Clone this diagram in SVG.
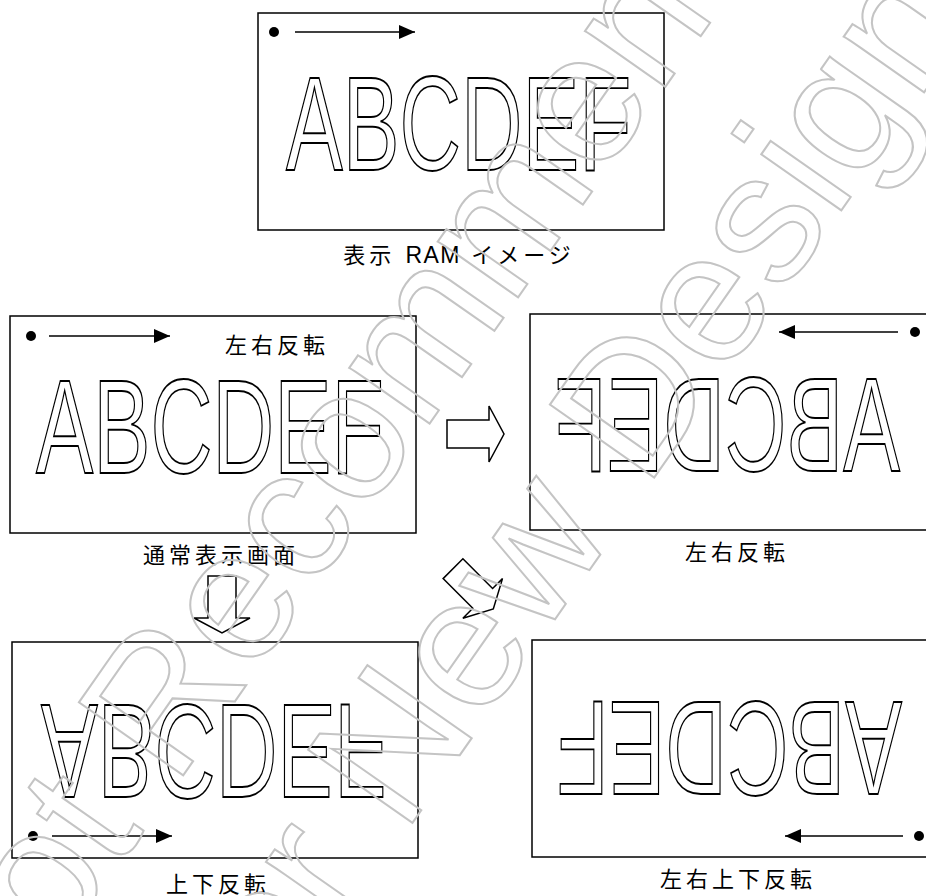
<svg xmlns="http://www.w3.org/2000/svg" width="926" height="896" viewBox="0 0 926 896">
<style>
.box{fill:#fff;stroke:#000;stroke-width:1.5}
.big{font-family:"Liberation Sans",Arial,sans-serif;font-size:134px;fill:#fff;stroke:#000;stroke-width:1.5;stroke-linejoin:miter;vector-effect:non-scaling-stroke}
.lbl{font-family:"Liberation Sans","Noto Sans CJK JP",sans-serif;font-size:22px;letter-spacing:4px;text-anchor:middle;fill:#000}
.ln{fill:none;stroke:#000;stroke-width:1.3;marker-end:url(#ah)}
.dot{fill:#000}
.blk{fill:#fff;stroke:#000;stroke-width:1.5;stroke-linejoin:miter}
.wm{font-family:"Liberation Sans",Arial,sans-serif;font-size:185px;fill:none;stroke:#c4c4c4;stroke-width:2;text-anchor:middle}
.flat{filter:url(#gray)}
</style>
<defs>
<marker id="ah" markerUnits="userSpaceOnUse" markerWidth="16" markerHeight="14" refX="16" refY="7" orient="auto">
<path d="M0,0 L16,7 L0,14 Z" fill="#000"/>
</marker>
<polygon id="blockArrow" points="0,-14 42,-14 42,-28 57,0 42,28 42,14 0,14"/>
<filter id="gray" x="-5%" y="-5%" width="110%" height="110%"><feOffset dx="0" dy="0"/></filter>
</defs>
<rect width="926" height="896" fill="#fff"/>

<g id="node-ram">
<rect class="box" x="258" y="13" width="406" height="217"/>
<circle class="dot" cx="274" cy="32" r="5"/>
<line class="ln" x1="295" y1="32" x2="415" y2="32"/>
<g class="flat"><text class="big" transform="translate(286,170) scale(0.635,1)">ABCDEF</text></g>
<text class="lbl" x="459" y="263">表示 <tspan letter-spacing="1.5" font-size="23">RAM</tspan> イメージ</text>
</g>

<g id="node-normal">
<rect class="box" x="10" y="316" width="406" height="217"/>
<circle class="dot" cx="31" cy="336" r="5"/>
<line class="ln" x1="49" y1="336" x2="170" y2="336"/>
<text class="lbl" x="277" y="353">左右反転</text>
<g class="flat"><text class="big" transform="translate(36,473) scale(0.64,1)">ABCDEF</text></g>
<text class="lbl" x="221" y="563">通常表示画面</text>
</g>

<g id="node-lr">
<rect class="box" x="530" y="314" width="406" height="216"/>
<circle class="dot" cx="915" cy="332" r="5"/>
<line class="ln" x1="898" y1="332" x2="779" y2="332"/>
<g class="flat"><text class="big" transform="translate(900,471) scale(-0.635,1)">ABCDEF</text></g>
<text class="lbl" x="737" y="560">左右反転</text>
</g>

<g id="node-ud">
<rect class="box" x="12" y="642" width="406" height="216"/>
<circle class="dot" cx="33" cy="836" r="5"/>
<line class="ln" x1="52" y1="836" x2="172" y2="836"/>
<g class="flat"><text class="big" transform="translate(41,705) scale(0.635,-1)">ABCDEF</text></g>
<text class="lbl" x="218" y="892">上下反転</text>
</g>

<g id="node-lrud">
<rect class="box" x="532" y="640" width="406" height="217"/>
<circle class="dot" cx="919" cy="836" r="5"/>
<line class="ln" x1="903" y1="836" x2="785" y2="836"/>
<g class="flat"><text class="big" transform="translate(902,702) scale(-0.635,-1)">ABCDEF</text></g>
<text class="lbl" x="738" y="887">左右上下反転</text>
</g>

<g id="connectors">
<use href="#blockArrow" class="blk" transform="translate(447,434)"/>
<use href="#blockArrow" class="blk" transform="translate(222,576) rotate(90)"/>
<use href="#blockArrow" class="blk" transform="translate(453,568.7) rotate(45)"/>
</g>

<g id="watermark" transform="translate(437,413) rotate(-55)">
<text class="wm" x="0" y="0">Not Recommended</text>
<text class="wm" x="0" y="215">for New Design</text>
</g>
</svg>
